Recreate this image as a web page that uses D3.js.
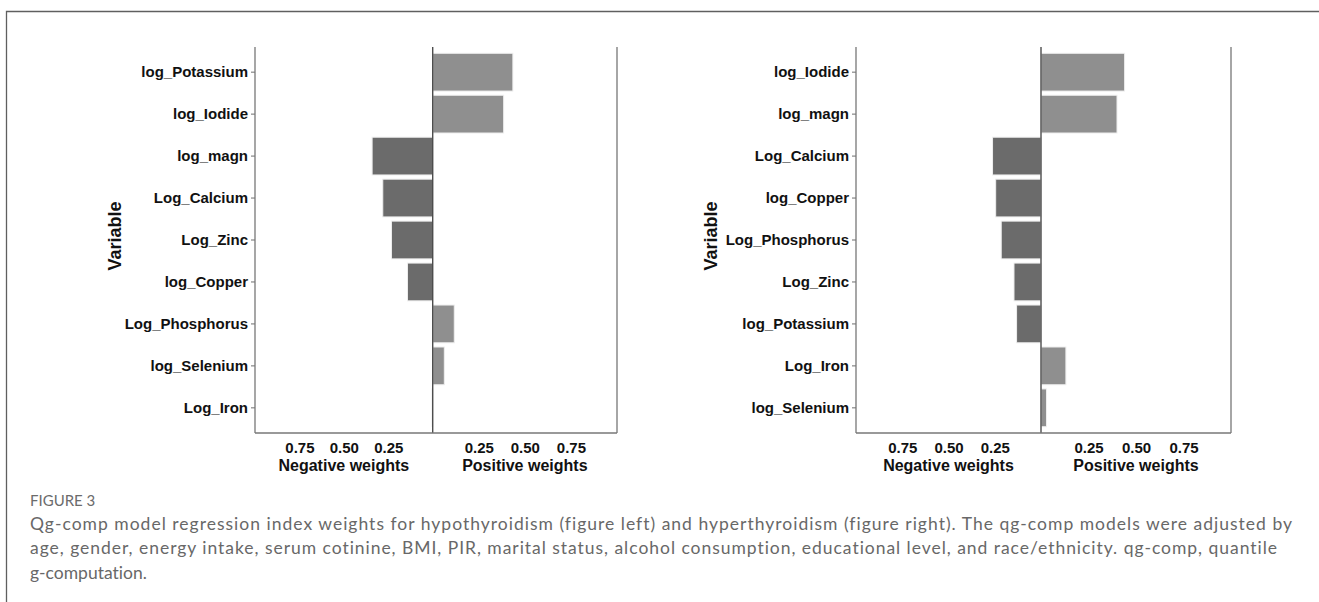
<!DOCTYPE html>
<html>
<head>
<meta charset="utf-8">
<script src="https://cdn.jsdelivr.net/npm/d3@7"></script>
<style>
  html, body { margin: 0; padding: 0; background: #fff; }
  svg { display: block; }
  .caption { font-variant-ligatures: none; font-feature-settings: "liga" 0, "clig" 0; }
</style>
</head>
<body>
<svg id="fig" width="1319" height="602"></svg>
<script>
// qg-comp index weights, hypothyroidism model (left figure)
const hypoVariables = ["log_Potassium", "log_Iodide", "log_magn", "Log_Calcium", "Log_Zinc",
                       "log_Copper", "Log_Phosphorus", "log_Selenium", "Log_Iron"];
const hypoWeights = [0.435, 0.385, -0.341, -0.281, -0.232, -0.142, 0.117, 0.063, -0.004];

// qg-comp index weights, hyperthyroidism model (right figure)
const hyperVariables = ["log_Iodide", "log_magn", "Log_Calcium", "log_Copper", "Log_Phosphorus",
                        "Log_Zinc", "log_Potassium", "Log_Iron", "log_Selenium"];
const hyperWeights = [0.440, 0.400, -0.262, -0.245, -0.215, -0.146, -0.132, 0.131, 0.029];

const weightTicks = [0.25, 0.50, 0.75];
const yTitle = "Variable";
const negTitle = "Negative weights";
const posTitle = "Positive weights";

const captionLabel = "FIGURE 3";
const captionLines = [
  "Qg-comp model regression index weights for hypothyroidism (figure left) and hyperthyroidism (figure right). The qg-comp models were adjusted by",
  "age, gender, energy intake, serum cotinine, BMI, PIR, marital status, alcohol consumption, educational level, and race/ethnicity. qg-comp, quantile",
  "g-computation."
];

const svg = d3.select("#fig");
const FONT = "'Liberation Sans', Arial, sans-serif";
const POS_FILL = "#8f8f8f";
const NEG_FILL = "#6b6b6b";

// frame around the figure
svg.append("path")
  .attr("d", "M6.5,602 V11.5 H1319")
  .attr("fill", "none")
  .attr("stroke", "#5f5f5f")
  .attr("stroke-width", 1.3);

function drawPanel(vars, weights, L) {
  const g = svg.append("g");
  const y = d3.scaleBand()
    .domain(vars)
    .range([L.top, L.bottom])
    .paddingInner(0.1)
    .paddingOuter(0.15);
  const xNeg = d3.scaleLinear().domain([0, 1]).range([L.zero, L.left]);
  const xPos = d3.scaleLinear().domain([0, 1]).range([L.zero, L.right]);

  const rows = vars.map((v, i) => ({ v, w: weights[i] }));

  // bars
  g.selectAll("rect.bar")
    .data(rows)
    .join("rect")
    .attr("class", "bar")
    .attr("x", d => d.w >= 0 ? xPos(0) : xNeg(-d.w))
    .attr("width", d => d.w >= 0 ? xPos(d.w) - xPos(0) : xNeg(0) - xNeg(-d.w))
    .attr("y", d => y(d.v))
    .attr("height", y.bandwidth())
    .attr("fill", d => d.w >= 0 ? POS_FILL : NEG_FILL)
    .attr("stroke", "#eeeeee")
    .attr("stroke-width", 1);

  // y axis with variable names
  const yAxis = g.append("g")
    .attr("transform", `translate(${L.left},0)`)
    .call(d3.axisLeft(y).tickSize(4).tickPadding(3));
  yAxis.select(".domain").remove();
  yAxis.selectAll(".tick line").attr("stroke", "#7a7a7a").attr("stroke-width", 1.1);
  yAxis.selectAll(".tick text")
    .attr("font-family", FONT).attr("font-weight", "bold")
    .attr("font-size", L.labelSize).attr("fill", "#111");

  // x axes: negative weights to the left of zero, positive to the right
  const fmt = d3.format(".2f");
  const negAxis = g.append("g")
    .attr("transform", `translate(0,${L.bottom})`)
    .call(d3.axisBottom(xNeg).tickValues(weightTicks).tickSize(0).tickPadding(9.6).tickFormat(fmt));
  const posAxis = g.append("g")
    .attr("transform", `translate(0,${L.bottom})`)
    .call(d3.axisBottom(xPos).tickValues(weightTicks).tickSize(0).tickPadding(9.6).tickFormat(fmt));
  [negAxis, posAxis].forEach(a => {
    a.select(".domain").remove();
    a.selectAll(".tick text")
      .attr("font-family", FONT).attr("font-weight", "bold")
      .attr("font-size", L.labelSize).attr("fill", "#111");
  });

  // axis lines: left, zero line, right, bottom
  const line = (x1, y1, x2, y2, c, w) => g.append("line")
    .attr("x1", x1).attr("y1", y1).attr("x2", x2).attr("y2", y2)
    .attr("stroke", c).attr("stroke-width", w);
  line(L.left, L.top, L.left, L.bottom, "#777", 1.3);
  line(xPos(0), L.top, xPos(0), L.bottom, "#4d4d4d", 1.4);
  line(L.right, L.top, L.right, L.bottom, "#888", 1.5);
  line(L.left, L.bottom, L.right, L.bottom, "#777", 1.3);

  // axis titles
  g.append("text")
    .attr("x", (xNeg(0) + xNeg(1)) / 2).attr("y", L.bottom + 37.7)
    .attr("text-anchor", "middle")
    .attr("font-family", FONT).attr("font-weight", "bold").attr("font-size", L.titleSize)
    .attr("fill", "#111").text(negTitle);
  g.append("text")
    .attr("x", (xPos(0) + xPos(1)) / 2).attr("y", L.bottom + 37.7)
    .attr("text-anchor", "middle")
    .attr("font-family", FONT).attr("font-weight", "bold").attr("font-size", L.titleSize)
    .attr("fill", "#111").text(posTitle);
  g.append("text")
    .attr("transform", `translate(${L.yTitleX},${L.yTitleY}) rotate(-90)`)
    .attr("text-anchor", "middle")
    .attr("font-family", FONT).attr("font-weight", "bold").attr("font-size", L.yTitleSize)
    .attr("fill", "#111").text(yTitle);
}

drawPanel(hypoVariables, hypoWeights, {
  left: 255, zero: 432.7, right: 617, top: 47, bottom: 433,
  labelSize: 15, titleSize: 16, yTitleSize: 18, yTitleX: 120.5, yTitleY: 236
});
drawPanel(hyperVariables, hyperWeights, {
  left: 856, zero: 1041, right: 1231, top: 47, bottom: 433,
  labelSize: 15, titleSize: 16, yTitleSize: 18, yTitleX: 716.5, yTitleY: 236
});

// caption
const CAP_FONT = "Lato, 'Open Sans', sans-serif";
svg.append("text")
  .attr("class", "caption")
  .attr("x", 30).attr("y", 506)
  .attr("font-family", CAP_FONT).attr("font-size", 15).attr("fill", "#6b6b6b")
  .text(captionLabel);
const capW = [1262, 1247, null];
captionLines.forEach((t, i) => {
  const el = svg.append("text")
    .attr("class", "caption")
    .attr("x", 30).attr("y", 530 + i * 24.3)
    .attr("font-family", CAP_FONT).attr("font-size", 17.5).attr("fill", "#686868")
    .text(t);
  if (capW[i]) el.attr("textLength", capW[i]).attr("lengthAdjust", "spacing");
});
</script>
</body>
</html>
